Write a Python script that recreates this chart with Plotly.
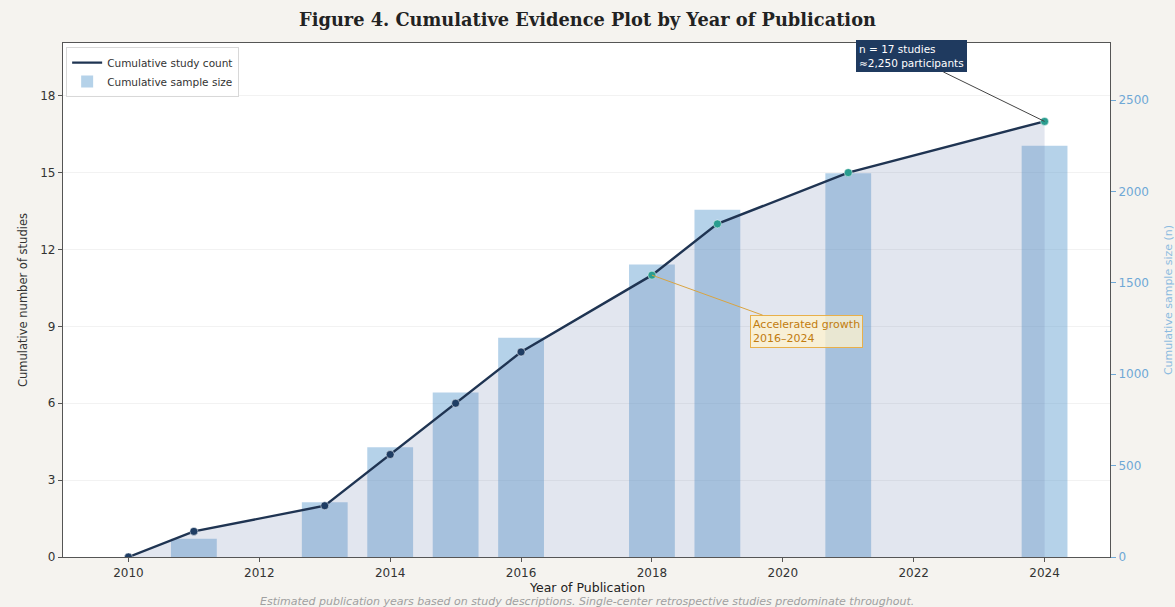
import plotly.graph_objects as go

# ---- data ----
years = [2010, 2011, 2013, 2014, 2015, 2016, 2018, 2019, 2021, 2024]
cum_studies = [0, 1, 2, 4, 6, 8, 11, 13, 15, 17]
cum_sample = [0, 100, 300, 600, 900, 1200, 1600, 1900, 2100, 2250]
x_ticks = [2010, 2012, 2014, 2016, 2018, 2020, 2022, 2024]
left_ticks = [0, 3, 6, 9, 12, 15, 18]
right_ticks = [0, 500, 1000, 1500, 2000, 2500]

title_text = "Figure 4. Cumulative Evidence Plot by Year of Publication"
footnote = ("Estimated publication years based on study descriptions. "
            "Single-center retrospective studies predominate throughout.")

NAVY = "#1f3452"
TEAL = "#2a9d8f"
marker_colors = [TEAL if y >= 2018 else "#1f3d63" for y in years]

fig = go.Figure()

# bars (sample size) on base axis y (displayed on right)
fig.add_trace(go.Bar(
    x=years, y=cum_sample, width=0.7, yaxis="y",
    marker=dict(color="rgba(100,160,210,0.48)", line=dict(width=0)),
    name="Cumulative sample size", legendrank=2, showlegend=True,
))

# shaded area under the cumulative count
fig.add_trace(go.Scatter(
    x=years, y=cum_studies, yaxis="y2", mode="lines",
    line=dict(width=0, color="rgba(0,0,0,0)"), fill="tozeroy",
    fillcolor="rgba(102,123,171,0.19)",
    showlegend=False, hoverinfo="skip",
))

# cumulative count line
fig.add_trace(go.Scatter(
    x=years, y=cum_studies, yaxis="y2", mode="lines",
    line=dict(color=NAVY, width=2.4),
    name="Cumulative study count", legendrank=1, showlegend=True,
))

# markers
fig.add_trace(go.Scatter(
    x=years, y=cum_studies, yaxis="y2", mode="markers",
    marker=dict(color=marker_colors, size=8,
                line=dict(color="rgba(255,255,255,0.6)", width=0.8)),
    showlegend=False, hoverinfo="skip",
))

fig.add_annotation(
    x=2024, y=17, xref="x", yref="y2",
    text="n = 17 studies<br>≈2,250 participants",
    showarrow=True, arrowhead=0, arrowwidth=1, arrowcolor="#444",
    ax=-133, ay=-65, align="left",
    font=dict(family="DejaVu Sans", size=10.5, color="white"),
    bgcolor="#1f3a5f", bordercolor="#1f3a5f", borderpad=2, borderwidth=1,
)
fig.add_annotation(
    x=2018, y=11, xref="x", yref="y2",
    text="Accelerated growth<br>2016–2024",
    showarrow=True, arrowhead=0, arrowwidth=1, arrowcolor="#d9a441",
    ax=155, ay=56, align="left",
    font=dict(family="DejaVu Sans", size=11, color="#c27c0e"),
    bgcolor="rgba(255,243,205,0.75)", bordercolor="#e8b04a", borderpad=2,
    borderwidth=1,
)

fig.add_annotation(
    x=0.5, y=-(587.5 - 557) / 514, xref="paper", yref="paper", showarrow=False,
    text="Year of Publication", yanchor="middle",
    font=dict(family="DejaVu Sans", size=12.5, color="#222"),
)
fig.add_annotation(
    x=0.5, y=-(601 - 557) / 514, xref="paper", yref="paper", showarrow=False,
    text="<i>" + footnote + "</i>", yanchor="middle",
    font=dict(family="DejaVu Sans", size=11, color="#a0a0a0"),
)

fig.update_layout(
    width=1175, height=607,
    margin=dict(l=63, r=65, t=43, b=50),
    paper_bgcolor="#f5f3ef", plot_bgcolor="white",
    title=dict(text="<b>" + title_text + "</b>", x=0.5, xanchor="center",
               y=1 - 20 / 607, yanchor="middle",
               font=dict(family="DejaVu Serif", size=17.8, color="#222")),
    font=dict(family="DejaVu Sans", size=11, color="#333"),
    barmode="overlay",
    showlegend=True,
    legend=dict(x=0.003, y=0.992, xanchor="left", yanchor="top",
                bgcolor="rgba(255,255,255,0.9)", bordercolor="#d8d8d8",
                borderwidth=1, font=dict(size=10.5, color="#333"),
                tracegroupgap=0, itemwidth=30),
    xaxis=dict(range=[2009, 2025], tickvals=x_ticks,
               ticktext=[str(v) for v in x_ticks], automargin=False,
               showline=True, linecolor="#555", linewidth=1.3, mirror=True,
               ticks="outside", ticklen=4, tickcolor="#555",
               showgrid=False, zeroline=False,
               tickfont=dict(size=12, color="#333")),
    yaxis=dict(range=[0, 2812.5], side="right", tickvals=right_ticks,
               showgrid=False, zeroline=False, showline=False,
               automargin=False,
               ticks="outside", ticklen=5, tickcolor="#6fa8d6",
               tickfont=dict(size=12, color="#6fa8d6"),
               title=dict(text="Cumulative sample size (n)", standoff=20,
                          font=dict(size=11, color="#8bbbe0"))),
    yaxis2=dict(range=[0, 20.06], side="left", overlaying="y",
                tickvals=left_ticks, anchor="x", automargin=False,
                showgrid=True, gridcolor="rgba(0,0,0,0.05)", gridwidth=1,
                zeroline=False, showline=True, linecolor="#555",
                linewidth=1.3, mirror=True,
                ticks="outside", ticklen=4, tickcolor="#555",
                tickfont=dict(size=12, color="#333"),
                title=dict(text="Cumulative number of studies", standoff=10,
                           font=dict(size=11.5, color="#333"))),
)

fig.write_html("out.html",
               config={"displayModeBar": False},
               post_script="document.body.style.margin='0';"
                           "document.body.style.padding='0';")
